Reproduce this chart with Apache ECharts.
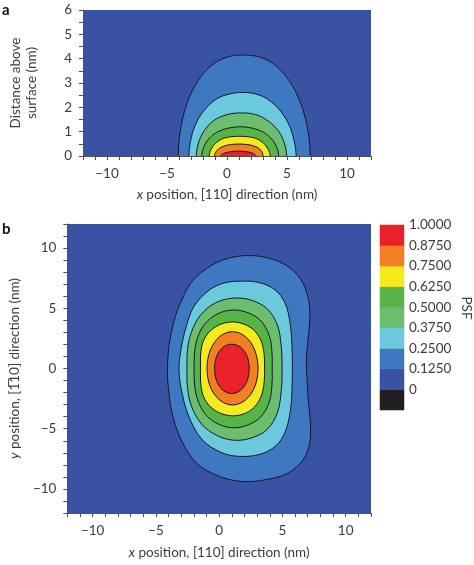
<!DOCTYPE html>
<html><head><meta charset="utf-8">
<script src="https://cdn.jsdelivr.net/npm/echarts@6/dist/echarts.min.js"></script>
<style>html,body{margin:0;padding:0;background:#fff}#c{width:474px;height:565px}</style>
</head><body><div id="c"></div>
<script>
// ---------- data ----------
const psfLevels = [0.125, 0.25, 0.375, 0.5, 0.625, 0.75, 0.875];
const colorbarLow  = [-0.125, 0, 0.125, 0.25, 0.375, 0.5, 0.625, 0.75, 0.875];
const colorbarHigh = [0, 0.125, 0.25, 0.375, 0.5, 0.625, 0.75, 0.875, 1.0];

// panel a: contour arches (x nm, height nm), left base -> right base
const archA_0125 = [[-4.07,0],[-3.96,0.8],[-3.67,1.6],[-3.15,2.4],[-2.4,3.1],[-1.35,3.7],[-0.1,4.05],[1.4,4.15],[2.9,4.04],[4.15,3.68],[5.2,3.08],[5.95,2.4],[6.5,1.6],[6.82,0.8],[6.93,0]];
const archA_0250 = [[-3.17,0],[-3.05,0.6],[-2.66,1.25],[-1.95,1.85],[-0.85,2.35],[0.3,2.56],[1.3,2.61],[2.4,2.55],[3.4,2.33],[4.45,1.85],[5.2,1.25],[5.6,0.6],[5.76,0]];
const archA_0375 = [[-2.55,0],[-2.4,0.5],[-1.95,1.0],[-1.12,1.45],[0.0,1.7],[1.2,1.77],[2.4,1.7],[3.45,1.43],[4.32,1.0],[4.8,0.5],[4.96,0]];
const archA_0500 = [[-2.1,0],[-1.95,0.35],[-1.52,0.7],[-0.82,0.98],[0.15,1.15],[1.1,1.2],[2.05,1.15],[3.02,0.98],[3.72,0.7],[4.15,0.35],[4.3,0]];
const archA_0625 = [[-1.48,0],[-1.3,0.3],[-0.9,0.55],[-0.2,0.74],[1.05,0.81],[2.3,0.74],[3.0,0.55],[3.4,0.3],[3.6,0]];
const archA_0750 = [[-1.04,0],[-0.85,0.22],[-0.4,0.38],[0.3,0.47],[1.0,0.49],[1.7,0.47],[2.4,0.38],[2.85,0.22],[3.0,0]];
const archA_0875 = [[-0.52,0],[-0.3,0.1],[0.2,0.17],[0.95,0.2],[1.7,0.17],[2.2,0.1],[2.41,0]];

// panel b: closed contours (x nm, y nm)
const loopB_0125 = [[2.3,9.38],[3.9,9.17],[5.4,8.5],[6.45,7.4],[7.0,6.0],[7.17,4.6],[7.08,2.95],[6.92,1.3],[6.9,0],[6.97,-1.3],[7.05,-2.7],[7.22,-4.6],[7.15,-6.2],[6.65,-7.55],[5.45,-8.68],[3.7,-9.23],[1.8,-9.38],[0.0,-8.95],[-1.7,-7.95],[-2.85,-6.25],[-3.65,-4.05],[-4.0,-1.8],[-4.09,0],[-3.95,2.0],[-3.55,4.0],[-3.0,5.6],[-2.1,7.3],[-0.7,8.5],[0.7,9.15]];
const loopB_0250 = [[1.6,7.25],[3.1,7.15],[4.4,6.55],[5.2,5.45],[5.6,3.8],[5.75,1.9],[5.78,0],[5.75,-1.9],[5.6,-3.7],[5.2,-5.3],[4.5,-6.4],[3.3,-7.1],[1.6,-7.3],[0.1,-6.95],[-1.4,-5.85],[-2.45,-3.85],[-3.0,-1.7],[-3.18,0],[-3.0,1.7],[-2.6,3.5],[-2.0,5.15],[-0.8,6.5],[0.4,7.1]];
const loopB_0375 = [[1.2,5.85],[2.6,5.65],[3.8,4.95],[4.6,3.6],[4.9,1.9],[4.97,0],[4.9,-1.9],[4.6,-3.65],[3.8,-5.05],[2.6,-5.75],[1.2,-5.96],[-0.2,-5.55],[-1.4,-4.6],[-2.2,-3.1],[-2.5,-1.6],[-2.55,0],[-2.5,1.6],[-2.2,3.0],[-1.5,4.4],[-0.3,5.45]];
const loopB_0500 = [[1.1,4.86],[2.3,4.62],[3.3,3.95],[3.95,2.75],[4.17,1.4],[4.19,0],[4.17,-1.4],[3.95,-2.8],[3.3,-4.0],[2.3,-4.68],[1.1,-4.92],[-0.1,-4.6],[-1.1,-3.8],[-1.7,-2.6],[-1.95,-1.3],[-1.98,0],[-1.95,1.3],[-1.7,2.6],[-1.1,3.75],[-0.1,4.55]];
const loopB_0625 = [[1.05,3.87],[2.15,3.6],[2.95,2.95],[3.45,1.85],[3.59,0],[3.45,-1.85],[2.95,-3.0],[2.15,-3.68],[1.05,-3.93],[-0.05,-3.65],[-0.9,-2.95],[-1.38,-1.85],[-1.48,0],[-1.38,1.85],[-0.9,2.9],[-0.05,3.6]];
const loopB_0750 = [[1.05,3.06],[2.06,2.66],[2.8,1.55],[3.07,0],[2.8,-1.55],[2.06,-2.63],[1.05,-3.03],[0.05,-2.63],[-0.7,-1.53],[-0.96,0],[-0.7,1.53],[0.05,2.66]];
const loopB_0875 = [[1.0,2.02],[1.7,1.76],[2.2,1.02],[2.37,0],[2.2,-1.04],[1.7,-1.8],[1.0,-2.08],[0.3,-1.8],[-0.2,-1.04],[-0.36,0],[-0.2,1.02],[0.3,1.76]];

const contoursA = [archA_0125, archA_0250, archA_0375, archA_0500, archA_0625, archA_0750, archA_0875];
const contoursB = [loopB_0125, loopB_0250, loopB_0375, loopB_0500, loopB_0625, loopB_0750, loopB_0875];

// ---------- styles ----------
const BAND = ['#231f20','#3a52a3','#3d78c1','#6ac9dc','#6dbd6e','#57b548','#f4ea1d','#f27f22','#ea2128'];
const FONT = 'Lato';
const FS = 13.5;
const TXT = '#3c3c3c';
const AX = '#505050';

function minus(v){ return String(v).replace('-', '\u2212'); }

function contourRender(contours, mirror) {
  return function (params, api) {
    const idx = api.value(0);
    let pts = contours[idx];
    if (mirror) pts = pts.concat(pts.slice(1, -1).reverse().map(p => [p[0], -p[1]]));
    return {
      type: 'polygon',
      shape: { points: pts.map(p => api.coord(p)), smooth: 0.35 },
      style: { fill: BAND[idx + 2], stroke: '#15172a', lineWidth: 1 }
    };
  };
}

const axisCommon = {
  type: 'value',
  axisLine: { show: true, onZero: false, lineStyle: { color: AX, width: 1 } },
  axisTick: { show: true, length: 4, lineStyle: { color: AX } },
  splitLine: { show: false },
  axisLabel: { color: TXT, fontFamily: FONT, fontSize: FS }
};
const titleStyle = { color: TXT, fontFamily: FONT, fontSize: FS,
  rich: { i: { fontStyle: 'italic', color: TXT, fontFamily: FONT, fontSize: FS } } };

function xAx(grid, gap) {
  return Object.assign({}, axisCommon, {
    gridIndex: grid, min: -12, max: 12, interval: 1,
    axisLabel: Object.assign({}, axisCommon.axisLabel, { margin: 11,
      formatter: v => (v % 5 === 0 ? minus(v) : '') }),
    name: '{i|x} position, [110] direction (nm)', nameLocation: 'middle', nameGap: gap,
    nameTextStyle: titleStyle
  });
}

const chart = echarts.init(document.getElementById('c'), null, { renderer: 'canvas' });
chart.setOption({
  animation: false,
  backgroundColor: '#ffffff',
  grid: [
    { left: 65, top: 10, width: 306, height: 146, show: true, backgroundColor: BAND[1], borderWidth: 0 },
    { left: 65, top: 224, width: 306, height: 293, show: true, backgroundColor: BAND[1], borderWidth: 0 },
    { left: 380, top: 225, width: 24, height: 185, show: false }
  ],
  xAxis: [
    xAx(0, 32),
    xAx(1, 33),
    { type: 'value', gridIndex: 2, min: 0, max: 1, show: false }
  ],
  yAxis: [
    Object.assign({}, axisCommon, { gridIndex: 0, min: 0, max: 6, interval: 0.5,
      axisLabel: Object.assign({}, axisCommon.axisLabel, { margin: 11,
        formatter: v => (Number.isInteger(v) ? String(v) : '') }),
      name: 'Distance above\nsurface (nm)', nameLocation: 'middle', nameGap: 43,
      nameTextStyle: { color: TXT, fontFamily: FONT, fontSize: FS, lineHeight: 16 } }),
    Object.assign({}, axisCommon, { gridIndex: 1, min: -12, max: 12, interval: 1,
      axisLabel: Object.assign({}, axisCommon.axisLabel, { margin: 11,
        formatter: v => (v % 5 === 0 ? minus(v) : '') }),
      name: '{i|y} position, [1\u030510] direction (nm)', nameLocation: 'middle', nameGap: 34,
      nameTextStyle: titleStyle }),
    { type: 'value', gridIndex: 2, position: 'right', min: -0.125, max: 1, interval: 0.125,
      axisLine: { show: false }, axisTick: { show: false }, splitLine: { show: false },
      axisLabel: { color: TXT, fontFamily: FONT, fontSize: FS, margin: 5, showMinLabel: true, showMaxLabel: true,
        formatter: v => (v < 0 ? '' : (v === 0 ? '0' : v.toFixed(4))) } }
  ],
  graphic: [
    { type: 'text', left: 2, top: 3, style: { text: 'a', font: 'bold 15px Lato', fill: '#111' } },
    { type: 'text', left: 2, top: 222, style: { text: 'b', font: 'bold 15px Lato', fill: '#111' } },
    { type: 'text', x: 466, y: 308, rotation: -Math.PI / 2,
      style: { text: 'PSF', font: FS + 'px Lato', fill: TXT, align: 'center', verticalAlign: 'middle' } }
  ],
  series: [
    { type: 'custom', xAxisIndex: 0, yAxisIndex: 0, clip: true,
      data: contoursA.map((c, i) => [i, 0]), renderItem: contourRender(contoursA, true) },
    { type: 'custom', xAxisIndex: 1, yAxisIndex: 1, clip: true,
      data: contoursB.map((c, i) => [i, 0]), renderItem: contourRender(contoursB, false) },
    { type: 'custom', xAxisIndex: 2, yAxisIndex: 2,
      data: colorbarLow.map((lo, i) => [i, lo, colorbarHigh[i]]),
      renderItem: function (params, api) {
        const i = api.value(0);
        const a = api.coord([0, api.value(2)]);
        const b = api.coord([1, api.value(1)]);
        return { type: 'rect', shape: { x: a[0], y: a[1], width: b[0] - a[0], height: b[1] - a[1] },
          style: { fill: BAND[i], stroke: BAND[i], lineWidth: 0.5 } };
      } }
  ]
});
</script>
</body></html>
